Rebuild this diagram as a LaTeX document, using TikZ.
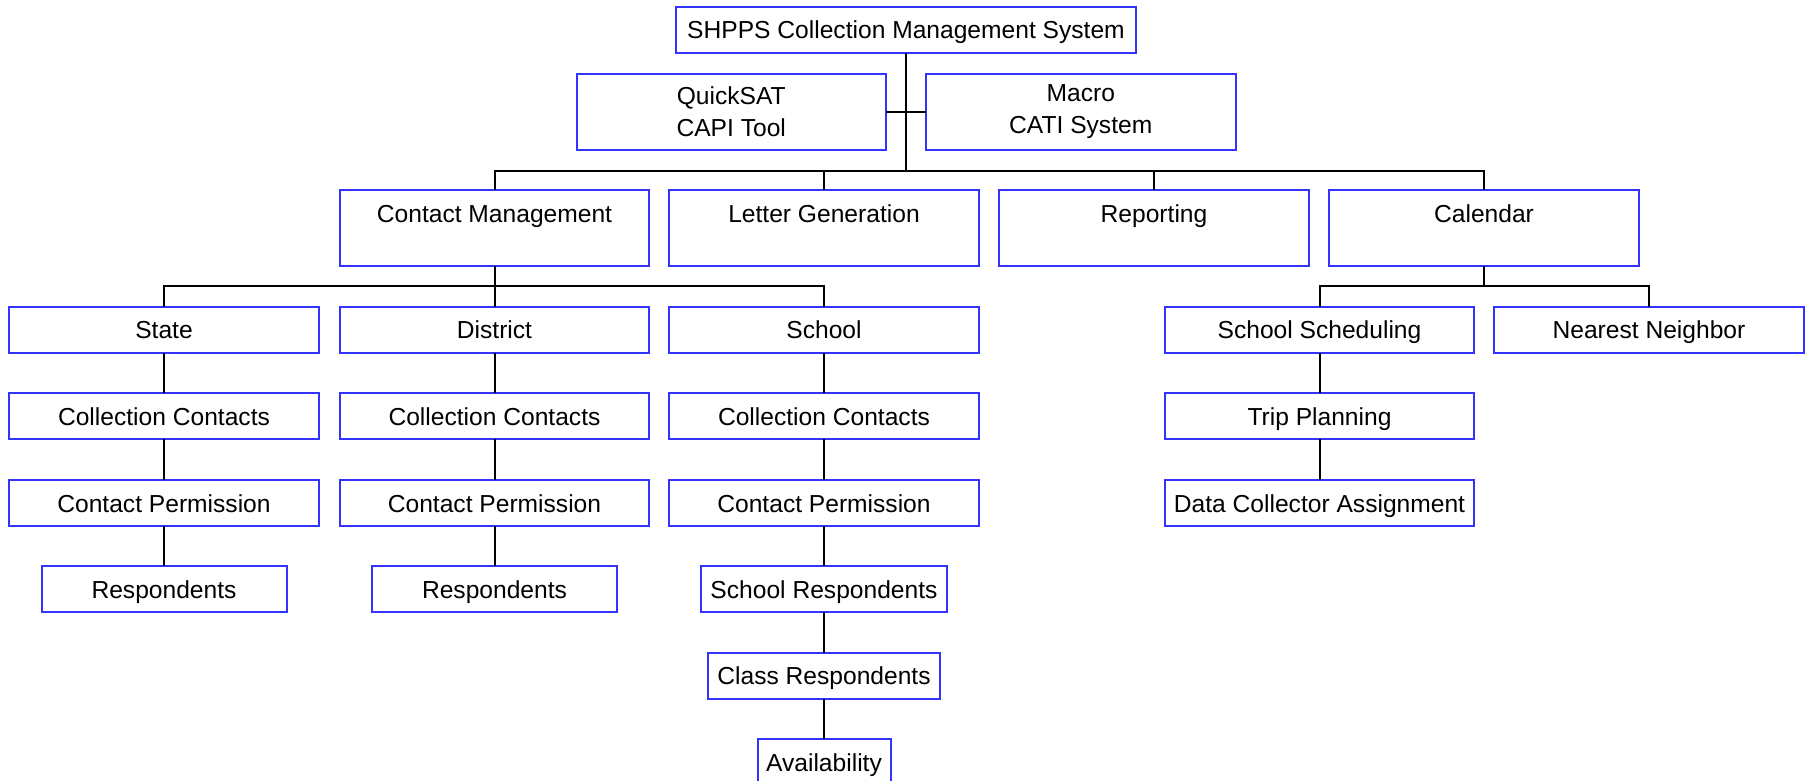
\documentclass[tikz,border=0pt]{standalone}
\usepackage{fontspec}
\setmainfont{Liberation Sans}
\definecolor{boxblue}{RGB}{51,51,255}
\begin{document}
\begin{tikzpicture}[x=1pt,y=1pt,
  cell/.style={draw=boxblue, line width=2pt, inner sep=0pt, outer sep=0pt,
    font=\fontsize{24.6}{32}\selectfont, minimum width=309.5pt},
  one/.style={cell, text height=32pt, text depth=14pt, minimum height=46pt},
  topbox/.style={cell, text height=32pt, text depth=44pt, minimum height=76pt},
  two/.style={cell, align=center, minimum height=76pt},
  link/.style={draw=black, line width=2pt, line join=miter}]
\useasboundingbox (0,0) rectangle (1806,-781);
% root and tools
\node[one, minimum width=460pt] (root) at (906,-29.7) {SHPPS Collection Management System};
\node[two] (quick) at (731.25,-112) {QuickSAT\\CAPI Tool};
\node[two] (macro) at (1080.75,-112) {Macro\\CATI System};
% level 1
\node[topbox] (cm) at (494.5,-228) {Contact Management};
\node[topbox] (letter) at (824,-228) {Letter Generation};
\node[topbox] (report) at (1154,-228) {Reporting};
\node[topbox] (cal) at (1484,-228) {Calendar};
% level 2
\node[one] (state) at (164,-329.7) {State};
\node[one] (district) at (494.5,-329.7) {District};
\node[one] (school) at (824,-329.7) {School};
\node[one] (sched) at (1319.5,-329.7) {School Scheduling};
\node[one] (nn) at (1649,-329.7) {Nearest Neighbor};
% level 3
\node[one] (cc1) at (164,-416.3) {Collection Contacts};
\node[one] (cc2) at (494.5,-416.3) {Collection Contacts};
\node[one] (cc3) at (824,-416.3) {Collection Contacts};
\node[one] (trip) at (1319.5,-416.3) {Trip Planning};
% level 4
\node[one] (cp1) at (164,-503) {Contact Permission};
\node[one] (cp2) at (494.5,-503) {Contact Permission};
\node[one] (cp3) at (824,-503) {Contact Permission};
\node[one] (dca) at (1319.5,-503) {Data Collector Assignment};
% level 5+
\node[one, minimum width=245pt] (r1) at (164,-589) {Respondents};
\node[one, minimum width=245pt] (r2) at (494.5,-589) {Respondents};
\node[one, minimum width=246pt] (sr) at (824,-589) {School Respondents};
\node[one, minimum width=232.7pt] (cr) at (824,-675.7) {Class Respondents};
\node[one, minimum width=133pt] (av) at (824,-762.3) {Availability};
% connectors
\coordinate (b0) at (906,-170.7);
\draw[link] (root.south) -- (b0);
\draw[link] (quick.east) -- (macro.west);
\foreach \n in {cm,letter,report,cal} \draw[link] (\n.north) |- (b0);
\coordinate (b1) at (494.5,-286);
\draw[link] (cm.south) -- (b1);
\foreach \n in {state,district,school} \draw[link] (\n.north) |- (b1);
\coordinate (b2) at (1484,-286);
\draw[link] (cal.south) -- (b2);
\foreach \n in {sched,nn} \draw[link] (\n.north) |- (b2);
\draw[link] (state) -- (cc1) (cc1) -- (cp1) (cp1) -- (r1);
\draw[link] (district) -- (cc2) (cc2) -- (cp2) (cp2) -- (r2);
\draw[link] (school) -- (cc3) (cc3) -- (cp3) (cp3) -- (sr) (sr) -- (cr) (cr) -- (av);
\draw[link] (sched) -- (trip) (trip) -- (dca);
\end{tikzpicture}
\end{document}
